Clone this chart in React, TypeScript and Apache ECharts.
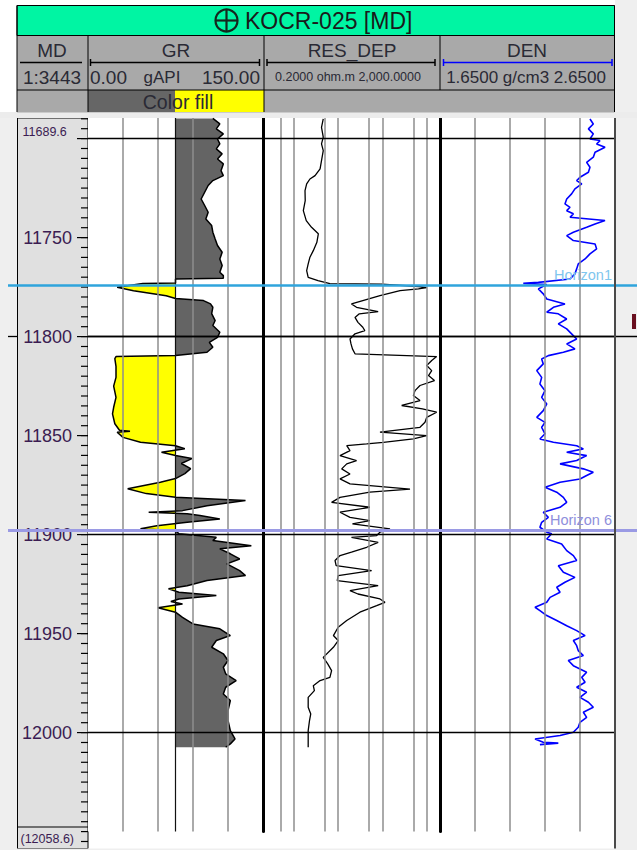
import React, { useEffect, useRef } from "react";
import * as echarts from "echarts";

// ---------------- data ----------------
const TOP_DEPTH = 11689.6;
const BOTTOM_DEPTH = 12058.6;
const TRACK_BOTTOM = 12050;

const GR_DEPTH = [11689.8,11692.6,11695.1,11697.6,11700.2,11702.7,11705.2,11707.7,11710.3,11712.8,11716.2,11718.7,11721.2,11723.7,11727.1,11730.5,11733.8,11737.2,11740.6,11743.9,11747.3,11750.7,11754.0,11757.4,11760.8,11764.1,11767.5,11769.2,11770.5,11770.9,11772.9,11773.2,11775.1,11776.8,11779.4,11780.8,11781.8,11783.5,11785.2,11788.4,11791.9,11794.4,11797.8,11800.4,11802.9,11805.4,11807.9,11809.6,11810.1,11811.1,11815.0,11820.6,11825.0,11830.7,11835.7,11839.0,11844.0,11847.3,11847.8,11848.3,11850.9,11853.4,11855.1,11856.6,11858.4,11860.1,11861.6,11864.1,11866.7,11869.2,11871.7,11873.6,11876.8,11879.3,11881.2,11882.8,11885.4,11887.9,11888.7,11889.5,11890.4,11892.1,11893.8,11895.5,11897.1,11898.0,11899.6,11901.4,11903.0,11905.6,11907.2,11909.7,11912.3,11914.8,11918.2,11920.7,11923.2,11925.8,11927.4,11929.1,11930.8,11932.5,11933.8,11935.0,11937.0,11939.2,11941.8,11945.1,11947.6,11951.0,11953.5,11956.9,11960.2,11963.6,11967.0,11970.3,11973.7,11977.1,11980.5,11983.8,11988.9,11993.9,11999.0,12003.2,12005.7,12007.4];
const GR_VALUES = [107,113,110,116,111,113,110,115,111,116,114,116,107,103,100,97,100,103,101,106,107,109,111,115,113,115,113,116,116,75,75,47,25,39,67,75,99,105,107,106,109,107,113,111,104,107,102,75,24,23,24,24,22,24,22,21,23,27,36,25,30,45,75,83,63,75,89,80,88,83,75,62,34,50,75,135,102,81,52,85,96,113,85,59,45,75,78,110,107,140,113,122,130,119,130,135,102,85,69,78,110,78,71,81,60,75,81,90,113,122,110,106,116,120,116,118,127,118,116,122,120,120,122,126,122,118];
const GR_CUTOFF = 75;

const RES_DEPTH = [11690.1,11694.3,11699.3,11702.7,11706.1,11711.1,11715.3,11718.7,11720.4,11722.9,11726.3,11731.3,11736.4,11741.4,11744.8,11748.1,11752.4,11756.6,11759.9,11763.3,11766.7,11770.1,11771.7,11773.2,11773.5,11774.7,11775.3,11775.9,11776.8,11779.3,11781.8,11783.5,11785.2,11787.4,11788.5,11790.3,11792.8,11795.3,11797.0,11798.6,11801.2,11803.7,11806.2,11808.7,11810.1,11812.1,11814.6,11817.2,11819.7,11822.2,11824.7,11827.3,11829.8,11832.3,11834.8,11836.5,11838.2,11840.8,11843.3,11845.8,11848.3,11850.0,11851.7,11853.4,11854.2,11855.1,11857.6,11860.1,11862.6,11864.3,11866.8,11869.4,11871.9,11874.4,11877.0,11878.6,11881.2,11883.7,11886.2,11888.7,11891.3,11892.9,11894.6,11897.1,11898.8,11900.5,11901.4,11903.9,11906.4,11908.9,11910.6,11913.1,11915.7,11918.2,11920.7,11923.2,11925.8,11928.3,11930.0,11932.5,11934.2,11935.9,11939.2,11943.4,11946.8,11951.0,11953.5,11956.9,11962.0,11965.3,11968.7,11972.1,11973.7,11976.3,11978.8,11982.2,11987.2,11990.6,11993.9,11999.0,12004.0,12007.4];
const RES_VALUES = [4.6,4.2,4.6,4.2,4.6,4.2,3.9,3.0,2.3,1.94,1.78,1.8,1.63,1.9,2.5,3.56,3.3,2.74,2.3,2.1,1.94,2.1,3.5,6.5,96,650,1000,650,250,88,36,20,26,80,30,24,28,36,40,24,18.5,19.5,21,24,1680,1300,1000,1300,1100,1500,706,545,500,706,272,800,1680,1000,916,706,88,1000,500,105,44,15.6,18.5,11,26,15.6,12,18.5,11,18.5,420,52,11,7.1,52,11,18.5,52,21,148,88,74,20,80,44,20,11,8.5,9,57,10,9.5,80,18.5,28,88,114,74,31,15.6,10,7.8,10,7.8,4.6,5.8,7.1,6.5,3.9,2.74,2.9,2.1,2.1,2.4,2.25,2.1,2.1,2.1];

const DEN_DEPTH = [11690.1,11692.6,11695.1,11697.6,11700.2,11701.0,11702.7,11704.4,11706.9,11709.4,11712.0,11714.5,11717.0,11719.5,11721.2,11722.9,11725.4,11727.9,11730.5,11733.0,11734.7,11736.4,11738.0,11739.7,11741.4,11743.1,11744.8,11747.3,11749.0,11751.5,11753.2,11755.7,11758.2,11760.8,11763.3,11765.8,11768.3,11770.9,11772.6,11773.1,11773.7,11775.9,11778.4,11781.0,11783.5,11785.2,11787.7,11788.5,11791.1,11793.6,11796.1,11798.6,11801.2,11803.7,11806.2,11807.9,11809.6,11811.3,11813.8,11817.2,11820.6,11823.9,11827.3,11830.7,11834.0,11837.4,11840.8,11843.3,11845.8,11849.1,11851.7,11853.4,11855.1,11856.7,11858.4,11860.1,11862.6,11864.3,11866.8,11868.5,11870.2,11871.9,11873.6,11876.1,11878.6,11881.2,11883.7,11886.2,11888.7,11891.3,11893.8,11896.3,11898.8,11899.6,11902.2,11904.7,11908.1,11910.6,11913.1,11915.7,11919.0,11921.6,11924.1,11926.6,11929.1,11931.7,11934.2,11936.7,11938.4,11940.9,11943.4,11946.0,11948.5,11951.0,11953.5,11956.1,11958.6,11961.1,11963.6,11966.2,11969.5,11972.1,11974.6,11977.1,11979.6,11982.2,11984.7,11987.2,11989.7,11992.3,11994.8,11997.3,11999.8,12001.5,12003.2,12004.9,12005.3,12006.1];
const DEN_VALUES = [2.507,2.526,2.498,2.526,2.507,2.564,2.545,2.593,2.536,2.526,2.488,2.507,2.498,2.45,2.431,2.46,2.421,2.402,2.374,2.364,2.393,2.374,2.412,2.393,2.593,2.536,2.488,2.412,2.374,2.412,2.536,2.545,2.507,2.479,2.44,2.431,2.421,2.393,2.212,2.126,2.26,2.212,2.24,2.26,2.364,2.298,2.26,2.326,2.374,2.326,2.374,2.402,2.431,2.374,2.421,2.355,2.269,2.231,2.24,2.203,2.231,2.221,2.25,2.231,2.26,2.24,2.203,2.25,2.231,2.25,2.221,2.298,2.431,2.469,2.374,2.488,2.431,2.336,2.469,2.526,2.488,2.45,2.336,2.25,2.317,2.355,2.374,2.336,2.24,2.269,2.231,2.221,2.26,2.288,2.26,2.345,2.374,2.412,2.431,2.326,2.355,2.421,2.364,2.317,2.336,2.279,2.26,2.193,2.221,2.26,2.317,2.374,2.431,2.479,2.412,2.431,2.44,2.469,2.383,2.412,2.488,2.46,2.479,2.431,2.488,2.45,2.498,2.526,2.469,2.488,2.45,2.44,2.412,2.336,2.193,2.24,2.326,2.221];

const GR_GRID = [30, 60, 90, 120];
const RES_GRID = [0.5, 1, 5, 10, 50, 100, 500, 1000];
const DEN_GRID = [1.85, 2.05, 2.25, 2.45];
const HUNDRED_LINES = [11700, 11800, 11900, 12000];
const EXTENDED_LINE = 11800;
const MAJOR_TICKS = [11700, 11750, 11800, 11850, 11900, 11950, 12000];
const DEPTH_LABELS = [11750, 11800, 11850, 11900, 11950, 12000];
const MINOR_TICKS: number[] = [];
for (let d = 11690; d <= 12055; d += 5) MINOR_TICKS.push(d);

const HORIZONS = [
  { name: "Horizon1", depth: 11774.2, color: "#2fa4dc", text: "#7fc6ee", width: 2.5 },
  { name: "Horizon 6", depth: 11898.0, color: "#9a9ae4", text: "#8f8fdc", width: 3 },
];

// ---------------- layout ----------------
const PX_PER_FT = 1.98;
const TOP_Y = 118;
const H_DEPTH = (BOTTOM_DEPTH - TOP_DEPTH) * PX_PER_FT;
const H_TRACK = (TRACK_BOTTOM - TOP_DEPTH) * PX_PER_FT;
const FONT = '"Liberation Sans", Arial, sans-serif';
const TXT = "#2a2a35";
const DEPTH_TXT = "#3b1c52";

function fillPolygons(values: number[], depths: number[], cut: number) {
  const pts: number[][] = [];
  for (let i = 0; i < values.length; i++) {
    pts.push([values[i], depths[i]]);
    if (i < values.length - 1) {
      const a = values[i] - cut;
      const b = values[i + 1] - cut;
      if (a * b < 0) {
        const t = a / (a - b);
        pts.push([cut, depths[i] + t * (depths[i + 1] - depths[i])]);
      }
    }
  }
  const d0 = depths[0];
  const d1 = depths[depths.length - 1];
  const high = [[cut, d0], ...pts.map(([v, d]) => [Math.max(v, cut), d]), [cut, d1]];
  const low = [[cut, d0], ...pts.map(([v, d]) => [Math.min(v, cut), d]), [cut, d1]];
  return { high, low };
}

function txt(text: string, x: number, y: number, size: number, align = "center", color = TXT, extra: any = {}) {
  return {
    type: "text",
    silent: true,
    z: 10,
    style: {
      text, x, y,
      font: `${size}px ${FONT}`,
      fontSize: size,
      fontFamily: FONT,
      fill: color,
      textAlign: align, align,
      textVerticalAlign: "middle", verticalAlign: "middle",
      ...extra,
    },
  };
}
function ln(x1: number, y1: number, x2: number, y2: number, stroke = "#000", lineWidth = 1) {
  return { type: "line", silent: true, z: 10, shape: { x1, y1, x2, y2 }, style: { stroke, lineWidth } };
}
function rc(x: number, y: number, width: number, height: number, fill: string, z = 1) {
  return { type: "rect", silent: true, z, shape: { x, y, width, height }, style: { fill } };
}
function scaleBar(x1: number, x2: number, y: number, color: string) {
  return [ln(x1, y, x2, y, color, 1.5), ln(x1, y - 3.5, x1, y + 3.5, color, 1.5), ln(x2, y - 3.5, x2, y + 3.5, color, 1.5)];
}

const gridLineStyle = { color: "#8e8e8e", width: 1.5, type: "solid" as const };
function vLines(values: number[]) {
  return values.map((v) => ({ xAxis: v }));
}

export default function App() {
  const ref = useRef<HTMLDivElement>(null);
  useEffect(() => {
    if (!ref.current) return;
    const chart = echarts.init(ref.current, undefined, { renderer: "svg" });
    const { high, low } = fillPolygons(GR_VALUES, GR_DEPTH, GR_CUTOFF);

    const graphics: any[] = [
      // light gray surroundings
      rc(0, 112, 17, 738, "#efefef"),
      rc(615, 0, 22, 850, "#efefef"),
      rc(0, 112, 637, 6, "#ececec"),
      rc(0, 848.6, 637, 2, "#efefef"),
      // header
      { type: "rect", silent: true, z: 2, shape: { x: 17, y: 5.5, width: 597.5, height: 30 }, style: { fill: "#00f5a3", stroke: "#000", lineWidth: 1 } },
      rc(17, 35.5, 597.5, 77, "#a9a9a9", 2),
      rc(88, 90, 87, 22, "#666666", 3),
      rc(175, 90, 89, 22, "#ffff00", 3),
      ln(17, 5.5, 17, 112),
      ln(614.5, 5.5, 614.5, 112),
      ln(17, 35.5, 614.5, 35.5),
      ln(17, 90, 614.5, 90),
      ln(88, 35.5, 88, 112),
      ln(264, 35.5, 264, 112),
      ln(440, 35.5, 440, 90),
      { type: "circle", silent: true, z: 10, shape: { cx: 226.5, cy: 20.5, r: 11 }, style: { fill: "none", stroke: "#14281e", lineWidth: 2.2 } },
      ln(215.5, 20.5, 237.5, 20.5, "#14281e", 2.2),
      ln(226.5, 9.5, 226.5, 31.5, "#14281e", 2.2),
      txt("KOCR-025 [MD]", 245, 21, 23, "left", "#1a1a1a"),
      txt("MD", 52, 50.5, 19),
      ln(20, 62.5, 82, 62.5, "#000", 1.5),
      txt("1:3443", 52, 77, 19),
      txt("GR", 176, 50.5, 19),
      ...scaleBar(90.5, 259.5, 62.5, "#000"),
      txt("0.00", 90, 77, 19, "left"),
      txt("gAPI", 162, 77, 17),
      txt("150.00", 260, 77, 19, "right"),
      txt("RES_DEP", 352, 50.5, 19),
      ...scaleBar(267, 435, 62.5, "#000"),
      txt("0.2000 ohm.m 2,000.0000", 348, 77, 12.5),
      txt("DEN", 527, 50.5, 19),
      ...scaleBar(443.5, 612, 62.5, "#0000ff"),
      txt("1.6500 g/cm3 2.6500", 526, 77, 17),
      txt("Color fill", 178, 102, 19.5),
      // depth column extras
      txt("11689.6", 22.5, 131.5, 12.5, "left", DEPTH_TXT),
      ln(17, 827, 88, 827, "#000", 1),
      txt("(12058.6)", 20.5, 838.5, 12.5, "left", DEPTH_TXT),
      ln(615, TOP_Y, 615, 848.6, "#4a4a4a", 2),
      rc(632, 314, 4, 15, "#6a1020", 10),
    ];

    const hiddenX = { show: false, splitLine: { show: false } };
    const tickData = [
      ...MINOR_TICKS.map((d) => [1, d, 7]),
      ...MAJOR_TICKS.map((d) => [1, d, 11]),
    ];

    const option: any = {
      animation: false,
      backgroundColor: "#ffffff",
      grid: [
        { left: 17, top: TOP_Y, width: 71, height: H_DEPTH, show: true, backgroundColor: "#e0e0e0", borderColor: "#000", borderWidth: 1 },
        { left: 88, top: TOP_Y, width: 175, height: H_TRACK, show: true, backgroundColor: "#fff", borderWidth: 0 },
        { left: 263, top: TOP_Y, width: 177, height: H_TRACK, show: true, backgroundColor: "#fff", borderWidth: 0 },
        { left: 440, top: TOP_Y, width: 175, height: H_TRACK, show: true, backgroundColor: "#fff", borderWidth: 0 },
        { left: 8, top: TOP_Y, width: 629, height: H_TRACK, show: false },
      ],
      xAxis: [
        { gridIndex: 0, type: "value", min: 0, max: 1, ...hiddenX },
        { gridIndex: 1, type: "value", min: 0, max: 150, ...hiddenX },
        { gridIndex: 2, type: "log", logBase: 10, min: 0.2, max: 2000, ...hiddenX },
        { gridIndex: 3, type: "value", min: 1.65, max: 2.65, ...hiddenX },
        { gridIndex: 4, type: "value", min: 8, max: 637, ...hiddenX },
      ],
      yAxis: [
        {
          gridIndex: 0, type: "value", inverse: true, min: TOP_DEPTH, max: BOTTOM_DEPTH, position: "right",
          axisLine: { show: true, lineStyle: { color: "#000", width: 1 } },
          axisTick: { show: false },
          axisLabel: {
            show: true, inside: true, margin: 16, customValues: DEPTH_LABELS,
            color: DEPTH_TXT, fontSize: 18, fontFamily: FONT,
            formatter: (v: number) => String(v),
          },
          splitLine: { show: false },
        },
        { gridIndex: 1, type: "value", inverse: true, min: TOP_DEPTH, max: TRACK_BOTTOM, show: false, splitLine: { show: false } },
        {
          gridIndex: 2, type: "value", inverse: true, min: TOP_DEPTH, max: TRACK_BOTTOM, position: "left",
          axisLine: { show: true, lineStyle: { color: "#000", width: 3 } },
          axisTick: { show: false }, axisLabel: { show: false }, splitLine: { show: false },
        },
        {
          gridIndex: 3, type: "value", inverse: true, min: TOP_DEPTH, max: TRACK_BOTTOM, position: "left",
          axisLine: { show: true, lineStyle: { color: "#000", width: 3 } },
          axisTick: { show: false }, axisLabel: { show: false }, splitLine: { show: false },
        },
        { gridIndex: 4, type: "value", inverse: true, min: TOP_DEPTH, max: TRACK_BOTTOM, show: false, splitLine: { show: false } },
      ],
      series: [
        // depth ticks
        {
          type: "custom", xAxisIndex: 0, yAxisIndex: 0, z: 3, silent: true,
          data: tickData,
          encode: { x: 0, y: 1 },
          renderItem: (_p: any, api: any) => {
            const [x, y] = api.coord([api.value(0), api.value(1)]);
            const len = api.value(2);
            return { type: "line", shape: { x1: x - len, y1: y, x2: x, y2: y }, style: { stroke: "#000", lineWidth: 1.2 } };
          },
        },
        // grid lines (below fills)
        {
          type: "line", xAxisIndex: 1, yAxisIndex: 1, z: 1, silent: true, showSymbol: false,
          data: [[0, TOP_DEPTH]], lineStyle: { opacity: 0 },
          markLine: {
            silent: true, symbol: "none", animation: false, label: { show: false },
            lineStyle: gridLineStyle,
            data: [...vLines(GR_GRID), { xAxis: GR_CUTOFF, lineStyle: { color: "#111", width: 1.2, type: "solid" } }],
          },
        },
        {
          type: "line", xAxisIndex: 2, yAxisIndex: 2, z: 1, silent: true, showSymbol: false,
          data: [[1, TOP_DEPTH]], lineStyle: { opacity: 0 },
          markLine: { silent: true, symbol: "none", animation: false, label: { show: false }, lineStyle: gridLineStyle, data: vLines(RES_GRID) },
        },
        {
          type: "line", xAxisIndex: 3, yAxisIndex: 3, z: 1, silent: true, showSymbol: false,
          data: [[2, TOP_DEPTH]], lineStyle: { opacity: 0 },
          markLine: {
            silent: true, symbol: "none", animation: false, label: { show: false }, lineStyle: gridLineStyle,
            data: [
              ...vLines(DEN_GRID),
              ...HORIZONS.map((h) => ({
                yAxis: h.depth,
                lineStyle: { color: "rgba(0,0,0,0)", width: 1, type: "solid" },
                label: { show: true, formatter: h.name, position: "insideEndTop", color: h.text, fontSize: 14.5, fontFamily: FONT, distance: 3 },
              })),
            ],
          },
        },
        // GR colour fill
        {
          type: "custom", xAxisIndex: 1, yAxisIndex: 1, z: 2, silent: true,
          data: [[GR_CUTOFF, GR_DEPTH[0]]],
          renderItem: (_params: any, api: any) => ({
            type: "group",
            children: [
              { type: "polygon", shape: { points: high.map((p) => api.coord(p)) }, style: { fill: "#646464" } },
              { type: "polygon", shape: { points: low.map((p) => api.coord(p)) }, style: { fill: "#ffff00" } },
            ],
          }),
        },
        // curves
        {
          name: "GR", type: "line", xAxisIndex: 1, yAxisIndex: 1, z: 3, showSymbol: false, silent: true,
          data: GR_DEPTH.map((d, i) => [GR_VALUES[i], d]),
          lineStyle: { color: "#000", width: 1.5 },
        },
        {
          name: "RES_DEP", type: "line", xAxisIndex: 2, yAxisIndex: 2, z: 3, showSymbol: false, silent: true,
          data: RES_DEPTH.map((d, i) => [RES_VALUES[i], d]),
          lineStyle: { color: "#000", width: 1.3 },
        },
        {
          name: "DEN", type: "line", xAxisIndex: 3, yAxisIndex: 3, z: 3, showSymbol: false, silent: true,
          data: DEN_DEPTH.map((d, i) => [DEN_VALUES[i], d]),
          lineStyle: { color: "#0000ff", width: 1.6 },
        },
        // 100 ft lines and horizons (overlay)
        {
          type: "line", xAxisIndex: 4, yAxisIndex: 4, z: 4, silent: true, showSymbol: false,
          data: [[8, TOP_DEPTH]], lineStyle: { opacity: 0 },
          markLine: {
            silent: true, symbol: "none", animation: false, label: { show: false },
            lineStyle: { color: "#000", width: 1.3, type: "solid" },
            data: [
              ...HUNDRED_LINES.map((d) => [{ coord: [88, d] }, { coord: [615, d] }]),
              [{ coord: [88, EXTENDED_LINE] }, { coord: [637, EXTENDED_LINE] }],
              [{ coord: [8, EXTENDED_LINE] }, { coord: [17, EXTENDED_LINE] }],
              ...HORIZONS.map((h) => ({ yAxis: h.depth, lineStyle: { color: h.color, width: h.width, type: "solid" } })),
            ],
          },
        },
      ],
      graphic: { elements: graphics },
    };
    chart.setOption(option);
    return () => chart.dispose();
  }, []);
  return <div ref={ref} style={{ position: "absolute", left: 0, top: 0, width: 637, height: 850 }} />;
}
